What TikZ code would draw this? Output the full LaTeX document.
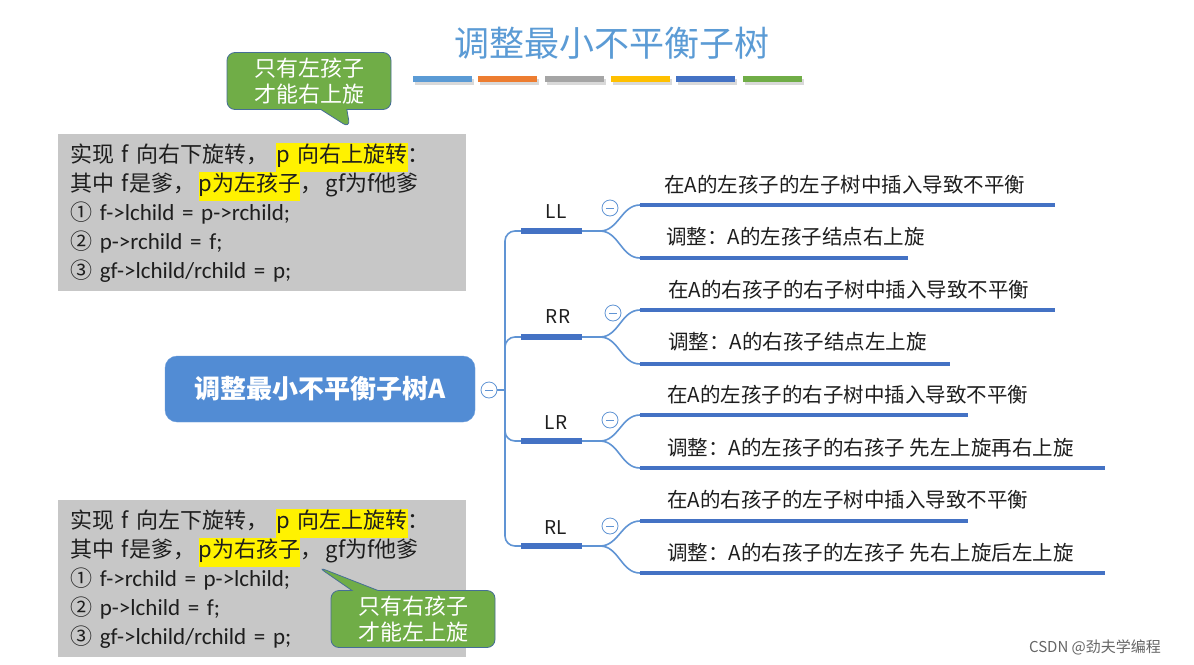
\documentclass[tikz,border=0pt]{standalone}
\usepackage{fontspec}
\setmainfont{Carlito}
\newfontfamily\cjk{Noto Sans CJK SC}
\usepackage{tikz}
\usetikzlibrary{positioning,calc,shapes.callouts}
\definecolor{AVLsky}{RGB}{91,155,213}
\definecolor{AVLorange}{RGB}{237,125,49}
\definecolor{AVLgray}{RGB}{165,165,165}
\definecolor{AVLgold}{RGB}{255,192,0}
\definecolor{AVLblue}{RGB}{68,114,196}
\definecolor{AVLgreen}{RGB}{112,173,71}
\definecolor{AVLbox}{RGB}{199,199,199}
\definecolor{AVLroot}{RGB}{82,140,212}
\definecolor{AVLline}{RGB}{96,148,212}
\definecolor{AVLedge}{RGB}{70,110,150}
\definecolor{AVLink}{RGB}{30,30,30}
\newcommand\hlite[1]{{\setlength\fboxsep{0pt}\colorbox{yellow}{\strut #1}}}
\tikzstyle{Bcode} = [rectangle, fill=AVLbox, anchor=north west,
                     text width=384, minimum height=157, align=left,
                     inner xsep=12pt, inner ysep=6pt, text=AVLink,
                     font=\fontsize{23}{29}\selectfont]
\tikzstyle{Bnote} = [rectangle callout, rounded corners=8pt, fill=AVLgreen,
                     draw=AVLedge, thick, text=white, minimum width=164,
                     minimum height=57, align=center, inner sep=2pt,
                     callout pointer width=26pt,
                     font=\cjk\fontsize{22}{26}\selectfont]
\tikzstyle{Broot} = [rectangle, rounded corners=12pt, fill=AVLroot,
                     draw=AVLroot!85!white, minimum width=310, minimum height=66,
                     text=white, font=\cjk\bfseries\fontsize{26}{30}\selectfont]
\tikzstyle{Bfold} = [circle, draw=AVLline, fill=white, thick, minimum size=16,
                     inner sep=0pt, path picture={\draw[AVLline, thick]
                     ($(path picture bounding box.center)+(-4pt,0)$) -- ++(8pt,0);}]
\tikzstyle{Btag}  = [text=AVLink, font=\cjk\fontsize{19}{22}\selectfont]
\tikzstyle{Bleaf} = [anchor=west, inner sep=0pt, text=AVLink,
                     font=\cjk\fontsize{20.5}{24}\selectfont]
\tikzstyle{Bthin} = [draw=AVLline, line width=1.6pt]
\tikzstyle{Bbar}  = [draw=AVLblue, line width=6pt]
\tikzstyle{Bsub}  = [draw=AVLblue, line width=4.5pt]

\begin{document}
\begin{tikzpicture}[x=1pt, y=-1pt]
  \useasboundingbox[fill=white] (0,0) rectangle (1194,664);

  % title and colour strip
  \node[text=AVLsky, font=\cjk\fontsize{35}{40}\selectfont] (title) at (612,43) {调整最小不平衡子树};
  \fill[black!15] (415,79) rectangle (474,85);
  \fill[black!15] (480,79) rectangle (539,85);
  \fill[black!15] (547,79) rectangle (606,85);
  \fill[black!15] (613,79) rectangle (672,85);
  \fill[black!15] (678,79) rectangle (737,85);
  \fill[black!15] (745,79) rectangle (804,85);
  \fill[AVLsky]    (413,76) rectangle (472,82);
  \fill[AVLorange] (478,76) rectangle (537,82);
  \fill[AVLgray]   (545,76) rectangle (604,82);
  \fill[AVLgold]   (611,76) rectangle (670,82);
  \fill[AVLblue]   (676,76) rectangle (735,82);
  \fill[AVLgreen]  (743,76) rectangle (802,82);

  % code boxes
  \node[Bcode] (rotR) at (58,134) {%
    {\cjk\fontsize{22}{29}\selectfont 实现 f 向右下旋转，\ \hlite{p 向右上旋转}：}\\
    {\cjk\fontsize{22}{29}\selectfont 其中 f是爹，\,\hlite{p为左孩子}，\,gf为f他爹}\\
    {\cjk\fontsize{22}{29}\selectfont ①} f->lchild = p->rchild;\\
    {\cjk\fontsize{22}{29}\selectfont ②} p->rchild = f;\\
    {\cjk\fontsize{22}{29}\selectfont ③} gf->lchild/rchild = p;};
  \node[Bcode] (rotL) at (58,500) {%
    {\cjk\fontsize{22}{29}\selectfont 实现 f 向左下旋转，\ \hlite{p 向左上旋转}：}\\
    {\cjk\fontsize{22}{29}\selectfont 其中 f是爹，\,\hlite{p为右孩子}，\,gf为f他爹}\\
    {\cjk\fontsize{22}{29}\selectfont ①} f->rchild = p->lchild;\\
    {\cjk\fontsize{22}{29}\selectfont ②} p->lchild = f;\\
    {\cjk\fontsize{22}{29}\selectfont ③} gf->lchild/rchild = p;};
  \node[Bnote, callout absolute pointer={(350,128)}] (tipR) at (309,81) {只有左孩子\\才能右上旋};
  \node[Bnote, callout absolute pointer={(318,567)}] (tipL) at (413,619) {只有右孩子\\才能左上旋};

  % mind map
  \node[Broot] (root) at (320,389) {调整最小不平衡子树A};
  \coordinate (spine) at (505,390);
  \coordinate (LLbar) at (521,231);  \coordinate (LLend) at (582,231);
  \coordinate (RRbar) at (521,337);  \coordinate (RRend) at (582,337);
  \coordinate (LRbar) at (521,441);  \coordinate (LRend) at (582,441);
  \coordinate (RLbar) at (521,546);  \coordinate (RLend) at (582,546);
  \coordinate (LLhub) at (600,231);  \coordinate (RRhub) at (600,337);
  \coordinate (LRhub) at (600,441);  \coordinate (RLhub) at (600,546);
  \coordinate (LLa) at (640,205);  \coordinate (LLaend) at (1055,205);
  \coordinate (LLb) at (640,258);  \coordinate (LLbend) at (908,258);
  \coordinate (RRa) at (640,310);  \coordinate (RRaend) at (1055,310);
  \coordinate (RRb) at (640,364);  \coordinate (RRbend) at (950,364);
  \coordinate (LRa) at (640,415);  \coordinate (LRaend) at (968,415);
  \coordinate (LRb) at (640,468);  \coordinate (LRbend) at (1105,468);
  \coordinate (RLa) at (640,521);  \coordinate (RLaend) at (968,521);
  \coordinate (RLb) at (640,573);  \coordinate (RLbend) at (1105,573);

  \draw[Bthin, rounded corners=10pt] (LLbar) -| (spine) |- (RLbar);
  \draw[Bthin, rounded corners=10pt] (spine) |- (RRbar);
  \draw[Bthin, rounded corners=10pt] (spine) |- (LRbar);
  \draw[Bbar] (LLbar) -- (LLend);  \draw[Bthin] (LLend) -- (LLhub);
  \draw[Bbar] (RRbar) -- (RRend);  \draw[Bthin] (RRend) -- (RRhub);
  \draw[Bbar] (LRbar) -- (LRend);  \draw[Bthin] (LRend) -- (LRhub);
  \draw[Bbar] (RLbar) -- (RLend);  \draw[Bthin] (RLend) -- (RLhub);
  \draw[Bthin] (LLhub) to[out=0,in=180] (LLa);  \draw[Bthin] (LLhub) to[out=0,in=180] (LLb);
  \draw[Bthin] (RRhub) to[out=0,in=180] (RRa);  \draw[Bthin] (RRhub) to[out=0,in=180] (RRb);
  \draw[Bthin] (LRhub) to[out=0,in=180] (LRa);  \draw[Bthin] (LRhub) to[out=0,in=180] (LRb);
  \draw[Bthin] (RLhub) to[out=0,in=180] (RLa);  \draw[Bthin] (RLhub) to[out=0,in=180] (RLb);
  \draw[Bsub] (LLa) -- (LLaend);  \draw[Bsub] (LLb) -- (LLbend);
  \draw[Bsub] (RRa) -- (RRaend);  \draw[Bsub] (RRb) -- (RRbend);
  \draw[Bsub] (LRa) -- (LRaend);  \draw[Bsub] (LRb) -- (LRbend);
  \draw[Bsub] (RLa) -- (RLaend);  \draw[Bsub] (RLb) -- (RLbend);

  \node[Bfold] (fold) at (489,390) {};
  \draw[Bthin] (fold) -- (spine);
  \node[Btag] (LL) at (556,212) {LL};
  \node[Btag] (RR) at (558,317) {RR};
  \node[Btag] (LR) at (556,423) {LR};
  \node[Btag] (RL) at (556,528) {RL};
  \node[Bfold] (LLfold) at (610,208) {};
  \node[Bfold] (RRfold) at (613,313) {};
  \node[Bfold] (LRfold) at (610,420) {};
  \node[Bfold] (RLfold) at (610,526) {};

  \node[Bleaf] (LLt) at (664,185) {在A的左孩子的左子树中插入导致不平衡};
  \node[Bleaf] (LLs) at (666,237) {调整：A的左孩子结点右上旋};
  \node[Bleaf] (RRt) at (668,290) {在A的右孩子的右子树中插入导致不平衡};
  \node[Bleaf] (RRs) at (668,342) {调整：A的右孩子结点左上旋};
  \node[Bleaf] (LRt) at (667,395) {在A的左孩子的右子树中插入导致不平衡};
  \node[Bleaf] (LRs) at (667,448) {调整：A的左孩子的右孩子 先左上旋再右上旋};
  \node[Bleaf] (RLt) at (667,500) {在A的右孩子的左子树中插入导致不平衡};
  \node[Bleaf] (RLs) at (667,553) {调整：A的右孩子的左孩子 先右上旋后左上旋};

  \node[text=black!60, font=\cjk\fontsize{15}{18}\selectfont] (mark) at (1095,647) {CSDN @劲夫学编程};
\end{tikzpicture}
\end{document}
